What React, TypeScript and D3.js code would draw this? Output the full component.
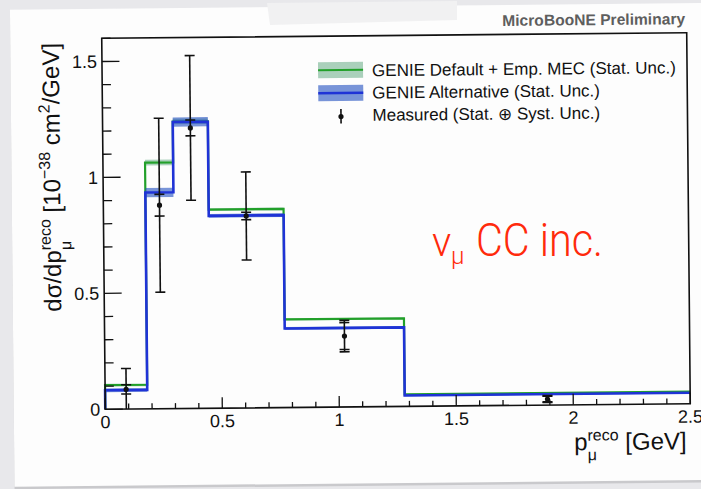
import * as React from 'react'
import * as d3 from 'd3'

// histogram bins (GeV)
const binEdges = [0, 0.18, 0.3, 0.45, 0.77, 1.28, 2.5]
// GENIE Default + Emp. MEC
const genieDefault = [0.104, 1.062, 1.238, 0.857, 0.38, 0.052]
const genieDefaultErr = [0.006, 0.012, 0.012, 0.006, 0.004, 0.002]
// GENIE Alternative
const genieAlt = [0.082, 0.933, 1.236, 0.83, 0.341, 0.047]
const genieAltErr = [0.008, 0.02, 0.02, 0.008, 0.006, 0.003]
// measured points
const dataX = [0.09, 0.24, 0.375, 0.61, 1.025, 1.89]
const dataY = [0.085, 0.878, 1.21, 0.828, 0.306, 0.026]
const dataStat = [0.02, 0.047, 0.034, 0.016, 0.058, 0.012]
const dataTotal = [0.09, 0.375, 0.312, 0.19, 0.068, 0.015]

const xTicks = [0, 0.5, 1, 1.5, 2, 2.5]
const xTickLabels = ['0', '0.5', '1', '1.5', '2', '2.5']
const yTicks = [0, 0.5, 1, 1.5]
const yTickLabels = ['0', '0.5', '1', '1.5']
const legendLabels = [
  'GENIE Default + Emp. MEC (Stat. Unc.)',
  'GENIE Alternative (Stat. Unc.)',
  'Measured (Stat. \u2295 Syst. Unc.)',
]

const W = 701
const H = 489
const margin = { left: 103.5, top: 35.5, right: 12.5, bottom: 82.5 }
const FONT = "'Liberation Sans', Arial, Helvetica, sans-serif"
const GREEN = '#22a02a'
const BLUE = '#1f33d6'

const App = () => {
  const x = d3.scaleLinear().domain([0, 2.5]).range([margin.left, W - margin.right])
  const y = d3.scaleLinear().domain([0, 1.6]).range([H - margin.bottom, margin.top])
  const x0 = x.range()[0], x1 = x.range()[1]
  const y0 = y.range()[0], y1 = y.range()[1]

  const stepLine = d3.line<[number, number]>()
    .x(d => x(d[0]))
    .y(d => y(d[1]))
    .curve(d3.curveStepAfter)

  const histPts = (vals: number[]): [number, number][] => {
    const pts: [number, number][] = [[binEdges[0], 0]]
    vals.forEach((v, i) => pts.push([binEdges[i], v]))
    pts.push([binEdges[binEdges.length - 1], vals[vals.length - 1]])
    return pts
  }

  const minorX = x.ticks(25)
  const minorY = y.ticks(16)

  const band = (vals: number[], errs: number[], fill: string, op: number) =>
    vals.map((v, i) => (
      <rect key={i} x={x(binEdges[i])} width={x(binEdges[i + 1]) - x(binEdges[i])}
        y={y(v + errs[i])} height={y(v - errs[i]) - y(v + errs[i])}
        fill={fill} fillOpacity={op} />
    ))

  const cap = 5

  return (
    <svg width={W} height={H} style={{ position: 'absolute', left: 0, top: 0 }}
      fontFamily={FONT}>
      <rect width={W} height={H} fill="#e8e8eb" />
      <g transform="rotate(-0.55, 396, 221)">
        <rect x={12} y={8} width={730} height={477.5} fill="#c9c9cc" />
        <rect x={12} y={6} width={730} height={477} fill="#fdfdfd" />

        {/* model bands */}
        {band(genieDefault, genieDefaultErr, '#2e8b57', 0.4)}
        <path d={stepLine(histPts(genieDefault)) || ''} fill="none" stroke={GREEN} strokeWidth={2.2} />
        {band(genieAlt, genieAltErr, '#1f4fbf', 0.6)}
        <path d={stepLine(histPts(genieAlt)) || ''} fill="none" stroke={BLUE} strokeWidth={2.6} />

        {/* measured */}
        {dataX.map((dx, i) => {
          const cx = x(dx)
          const lo = Math.max(0, dataY[i] - dataTotal[i])
          const hi = dataY[i] + dataTotal[i]
          return (
            <g key={i} stroke="#111" strokeWidth={1.6}>
              <line x1={cx} x2={cx} y1={y(lo)} y2={y(hi)} />
              <line x1={cx - cap} x2={cx + cap} y1={y(hi)} y2={y(hi)} />
              {lo > 0 && <line x1={cx - cap} x2={cx + cap} y1={y(lo)} y2={y(lo)} />}
              <line x1={cx - cap} x2={cx + cap} y1={y(dataY[i] + dataStat[i])} y2={y(dataY[i] + dataStat[i])} />
              <line x1={cx - cap} x2={cx + cap} y1={y(dataY[i] - dataStat[i])} y2={y(dataY[i] - dataStat[i])} />
              <circle cx={cx} cy={y(dataY[i])} r={2.6} fill="#111" stroke="none" />
            </g>
          )
        })}

        {/* frame */}
        <rect x={x0} y={y1} width={x1 - x0} height={y0 - y1} fill="none" stroke="#111" strokeWidth={1.6} />

        {/* x axis ticks */}
        {minorX.map((t, i) => {
          const major = xTicks.some(m => Math.abs(m - t) < 1e-9)
          return <line key={i} x1={x(t)} x2={x(t)} y1={y0} y2={y0 - (major ? 11 : 5.5)} stroke="#111" strokeWidth={1.3} />
        })}
        {xTicks.map((t, i) => (
          <text key={i} x={x(t)} y={y0 + 19} textAnchor="middle" fontSize={18} fill="#111">{xTickLabels[i]}</text>
        ))}

        {/* y axis ticks */}
        {minorY.map((t, i) => {
          const major = yTicks.some(m => Math.abs(m - t) < 1e-9)
          return <line key={i} x1={x0} x2={x0 + (major ? 17.5 : 8.75)} y1={y(t)} y2={y(t)} stroke="#111" strokeWidth={1.3} />
        })}
        {yTicks.map((t, i) => (
          <text key={i} x={x0 - 5} y={y(t)} dy="0.35em" textAnchor="end" fontSize={18} fill="#111">{yTickLabels[i]}</text>
        ))}

        {/* axis titles */}
        <text x={572} y={452} fontSize={24} fill="#111">
          p<tspan fontSize={16} dy={-9.5}>reco</tspan>
          <tspan fontSize={16} dx={-31.1} dy={19.5}>μ</tspan>
          <tspan fontSize={24} dx={21.9} dy={-10}> [GeV]</tspan>
        </text>
        <text transform="translate(60.5,308.5) rotate(-90)" fontSize={24} fill="#111">
          dσ/dp<tspan fontSize={16} dy={-10}>reco</tspan>
          <tspan fontSize={16} dx={-31.1} dy={20.5}>μ</tspan>
          <tspan fontSize={24} dx={21.9} dy={-10.5}> [10</tspan>
          <tspan fontSize={16} dy={-10}>−38</tspan>
          <tspan fontSize={24} dy={10}> cm</tspan>
          <tspan fontSize={16} dy={-10}>2</tspan>
          <tspan fontSize={24} dy={10}>/GeV]</tspan>
        </text>

        <text x={687} y={27} textAnchor="end" fontSize={15.6} fontWeight="bold" fill="#5e5e5e">MicroBooNE Preliminary</text>

        {/* legend */}
        <rect x={319.5} y={61.5} width={45} height={16} fill="#2e8b57" fillOpacity={0.4} />
        <line x1={319.5} x2={364.5} y1={69.5} y2={69.5} stroke={GREEN} strokeWidth={2} />
        <rect x={319.5} y={84.5} width={45} height={16} fill="#1f4fbf" fillOpacity={0.6} />
        <line x1={319.5} x2={364.5} y1={92.5} y2={92.5} stroke={BLUE} strokeWidth={2.4} />
        <line x1={342} x2={342} y1={108.5} y2={123} stroke="#111" strokeWidth={1.6} />
        <circle cx={342} cy={116} r={2.6} fill="#111" />
        {legendLabels.map((l, i) => (
          <text key={i} x={373.5} y={76 + i * 22.3} fontSize={17} fill="#111">{l}</text>
        ))}
      </g>

      {/* tape */}
      <polygon points="267,3 457,1 457,20 270,25" fill="#f1f1f2" />

      {/* handwritten label */}
      <g fill="#ff2a0c" fontFamily="Roboto, 'Noto Sans', sans-serif" fontWeight={300}>
        <text x={432} y={256} fontSize={40}>ν</text>
        <text x={451} y={264} fontSize={24}>μ</text>
        <text x={476} y={256} fontSize={46} textLength={127} lengthAdjust="spacingAndGlyphs">CC inc.</text>
      </g>
    </svg>
  )
}

export default App
